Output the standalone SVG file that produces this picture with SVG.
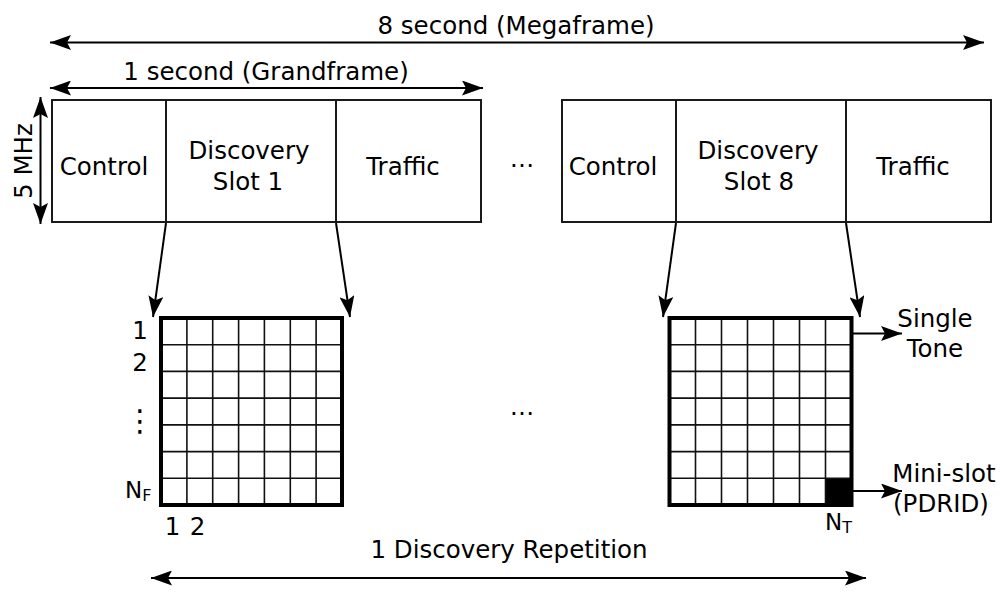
<svg xmlns="http://www.w3.org/2000/svg" width="1000" height="592" viewBox="0 0 1000 592">
<style>
text{font-family:"DejaVu Sans",Verdana,sans-serif;font-size:24.5px;fill:#000}
.m{text-anchor:middle}
.frame{fill:#fff;stroke:#1a1a1a;stroke-width:2}
.div{stroke:#1a1a1a;stroke-width:2}
.arr{stroke:#000;stroke-width:2;fill:none}
.gin{stroke:#111;stroke-width:1.6;fill:none}
.gout{stroke:#000;stroke-width:4;fill:none}
.n{font-size:23px}
.sub{font-size:16px}
</style>
<defs>
<marker id="ah" markerUnits="userSpaceOnUse" markerWidth="21" markerHeight="15" refX="21" refY="7.5" orient="auto-start-reverse" viewBox="0 0 21 15">
<path d="M0,0 L21,7.5 L0,15 L4,7.5 z" fill="#000"/>
</marker>
</defs>

<g id="dimensions">
<line class="arr" x1="50" y1="42.5" x2="984" y2="42.5" marker-start="url(#ah)" marker-end="url(#ah)"/>
<text class="m" x="516" y="34">8 second (Megaframe)</text>
<line class="arr" x1="50" y1="88" x2="483" y2="88" marker-start="url(#ah)" marker-end="url(#ah)"/>
<text class="m" x="266" y="80">1 second (Grandframe)</text>
<line class="arr" x1="40.5" y1="97" x2="40.5" y2="224" marker-start="url(#ah)" marker-end="url(#ah)"/>
<text class="m" transform="translate(31.5,161) rotate(-90)">5 MHz</text>
<line class="arr" x1="151" y1="578" x2="866" y2="578" marker-start="url(#ah)" marker-end="url(#ah)"/>
<text class="m" x="509" y="558">1 Discovery Repetition</text>
</g>

<g id="grandframe1">
<rect class="frame" x="52" y="100" width="429" height="122"/>
<line class="div" x1="166" y1="100" x2="166" y2="222"/>
<line class="div" x1="336" y1="100" x2="336" y2="222"/>
<text class="m" x="104" y="175">Control</text>
<text class="m" x="249" y="159">Discovery</text>
<text class="m" x="248" y="190">Slot 1</text>
<text class="m" x="403" y="175">Traffic</text>
</g>

<g id="grandframe8">
<rect class="frame" x="562" y="100" width="429" height="122"/>
<line class="div" x1="676" y1="100" x2="676" y2="222"/>
<line class="div" x1="846" y1="100" x2="846" y2="222"/>
<text class="m" x="613" y="175">Control</text>
<text class="m" x="758" y="159">Discovery</text>
<text class="m" x="759" y="190">Slot 8</text>
<text class="m" x="913" y="175">Traffic</text>
</g>

<g id="ellipses">
<text class="m" x="522" y="167">…</text>
<text class="m" x="522" y="415">…</text>
</g>

<g id="grid1">
<path class="gin" d="M186.9,318V505M212.7,318V505M238.6,318V505M264.4,318V505M290.3,318V505M316.1,318V505M161,344.7H342M161,371.4H342M161,398.1H342M161,424.9H342M161,451.6H342M161,478.3H342"/>
<rect class="gout" x="161" y="318" width="181" height="187"/>
<text class="m" x="140" y="339">1</text>
<text class="m" x="140" y="371">2</text>
<text class="m" x="140" y="431" style="font-size:30px">⋮</text>
<text class="n" x="125" y="498">N<tspan class="sub" dy="3">F</tspan></text>
<text class="m" x="172.5" y="535">1</text>
<text class="m" x="197.5" y="535">2</text>
</g>

<g id="grid8">
<rect x="825.5" y="478.3" width="26" height="26.7" fill="#000"/>
<path class="gin" d="M695.5,318V505M721.5,318V505M747.5,318V505M773.5,318V505M799.5,318V505M825.5,318V505M669.5,344.7H851.5M669.5,371.4H851.5M669.5,398.1H851.5M669.5,424.9H851.5M669.5,451.6H851.5M669.5,478.3H851.5"/>
<rect class="gout" x="669.5" y="318" width="182" height="187"/>
<text class="n" x="825" y="530">N<tspan class="sub" dy="3">T</tspan></text>
<text class="m" x="935" y="327">Single</text>
<text class="m" x="935" y="357">Tone</text>
<text class="m" x="944" y="482">Mini-slot</text>
<text class="m" x="941" y="512">(PDRID)</text>
</g>

<g id="connectors">
<line class="arr" x1="166" y1="223" x2="153" y2="317" marker-end="url(#ah)"/>
<line class="arr" x1="336" y1="223" x2="350" y2="317" marker-end="url(#ah)"/>
<line class="arr" x1="676" y1="223" x2="663" y2="317" marker-end="url(#ah)"/>
<line class="arr" x1="846" y1="223" x2="860" y2="317" marker-end="url(#ah)"/>
<line class="arr" x1="853" y1="333.5" x2="902" y2="333.5" marker-end="url(#ah)"/>
<line class="arr" x1="853" y1="491" x2="902" y2="491" marker-end="url(#ah)"/>
</g>
</svg>
